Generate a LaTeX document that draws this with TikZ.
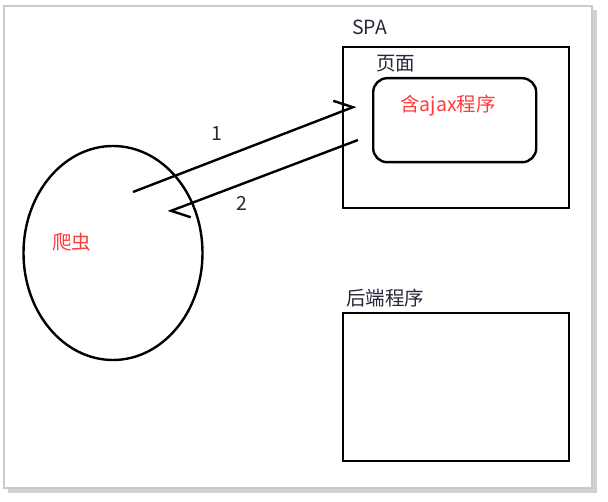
\documentclass[tikz,border=0pt]{standalone}
\usepackage{fontspec}
\newfontfamily\cjk{Noto Sans CJK SC}
\usetikzlibrary{shapes.geometric,arrows.meta,positioning}
\definecolor{txtred}{HTML}{FF3B3B}
\definecolor{txtdark}{HTML}{26283A}
\definecolor{framegray}{HTML}{CBCBCB}
\tikzset{
  box/.style={draw, line width=2.4pt},
  lbl/.style={font=\cjk\fontsize{19.5}{22}\selectfont, text=txtdark, inner sep=0pt},
  redlbl/.style={lbl, text=txtred},
  msg/.style={line width=2.4pt, -{Straight Barb[harpoon,length=16pt,width=26pt,line width=2.4pt]}}
}
\begin{document}
\begin{tikzpicture}[x=1pt,y=-1pt]
  \useasboundingbox (0,0) rectangle (608,502);
  % frame and its shadow
  \fill[black!18] (8,10) rectangle (597,493);
  \draw[framegray, fill=white, line width=1.5pt] (4,6) rectangle (592,488);

  % SPA
  \node[box, minimum width=226, minimum height=161, anchor=north west] (spa) at (342,46) {};
  \node[lbl, anchor=west] (spalbl) at (352,27) {SPA};
  \node[lbl, anchor=west] (pagelbl) at (376,64) {页面};
  \node[box, rounded corners=14pt, minimum width=163, minimum height=84, anchor=north west] (page) at (372,77) {};
  \node[redlbl, anchor=west] (ajax) at (400,106) {含ajax程序};

  % backend
  \node[lbl, anchor=west] (backlbl) at (346,298) {后端程序};
  \node[box, minimum width=226, minimum height=148, anchor=north west] (backend) at (342,312) {};

  % crawler
  \node[draw, ellipse, line width=2.4pt, minimum width=179, minimum height=214] (spider) at (113,253) {};
  \node[redlbl, anchor=west] (spiderlbl) at (52,242) {爬虫};

  % requests
  \coordinate (reqA) at (133,192);
  \coordinate (reqB) at (356,106);
  \coordinate (resA) at (358,140);
  \coordinate (resB) at (168,212);
  \draw[msg] (reqA) -- (reqB);
  \draw[msg] (resA) -- (resB);
  \node[lbl] (one) at (217,134) {1};
  \node[lbl] (two) at (242,203) {2};
\end{tikzpicture}
\end{document}
